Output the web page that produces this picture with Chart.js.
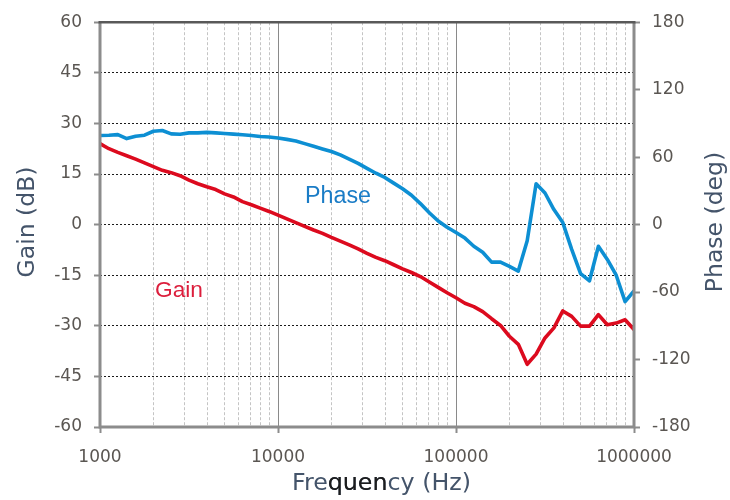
<!DOCTYPE html>
<html><head><meta charset="utf-8">
<script src="https://cdn.jsdelivr.net/npm/chart.js@4.4.1/dist/chart.umd.min.js"></script>
<style>html,body{margin:0;padding:0;background:#fff}canvas{display:block}</style>
</head><body>
<canvas id="c" width="730" height="500"></canvas>
<script>
// ---- data ----
const freqHz = [1000,1122,1259,1413,1585,1778,1995,2239,2512,2818,
  3162,3548,3981,4467,5012,5623,6310,7079,7943,8913,
  10000,11220,12589,14125,15849,17783,19953,22387,25119,28184,
  31623,35481,39811,44668,50119,56234,63096,70795,79433,89125,
  100000,112202,125893,141254,158489,177828,199526,223872,251189,281838,
  316228,354813,398107,446684,501187,562341,630957,707946,794328,891251,1000000];
const gainDb = [24.0,22.5,21.4,20.4,19.4,18.3,17.2,16.1,15.4,14.5,
  13.2,12.1,11.2,10.4,9.1,8.2,6.8,5.9,4.9,3.9,
  2.8,1.7,0.6,-0.5,-1.6,-2.6,-3.8,-4.9,-6.0,-7.2,
  -8.5,-9.7,-10.7,-11.9,-13.1,-14.2,-15.4,-17.0,-18.6,-20.2,
  -21.7,-23.3,-24.3,-25.8,-27.9,-29.9,-33.1,-35.5,-41.4,-38.4,
  -33.6,-30.6,-25.6,-27.2,-30.1,-30.1,-26.7,-29.7,-29.2,-28.2,-31.1];
const phaseDeg = [79.3,79.5,80.0,76.5,78.6,79.5,83.0,83.7,80.7,80.4,
  81.6,81.6,82.0,81.6,81.0,80.5,79.9,79.3,78.4,77.9,
  77.0,75.8,74.4,72.0,69.6,67.3,65.0,62.0,58.2,54.4,
  50.0,45.7,41.9,36.9,31.9,26.1,18.7,10.5,3.2,-2.4,
  -7.0,-12.0,-19.3,-24.6,-33.4,-33.4,-37.1,-41.3,-14.3,36.3,
  28.1,13.4,1.8,-22.0,-43.6,-50.0,-19.3,-31.0,-45.0,-68.5,-59.0];
const xGridFreqs = [1000,2000,3000,4000,5000,6000,7000,8000,9000,
  10000,20000,30000,40000,50000,60000,70000,80000,90000,
  100000,200000,300000,400000,500000,600000,700000,800000,900000,1000000];
const xDecades = [1000,10000,100000,1000000];
const xTickLabels = ['1000','10000','100000','1000000'];
const gainRange = [-60, 60, 15];
const phaseRange = [-180, 180, 60];

const TICK_COLOR = '#5a5652';
const TITLE_COLOR = '#44546a';
const tickFont = {family:'DejaVu Sans', size:17};
const isDecade = v => xDecades.indexOf(v) >= 0;

// set a font whose rendered width of `text` equals `w`
function fitFont(ctx, text, family, w) {
  ctx.font = '20px ' + family;
  const s = 20 * w / ctx.measureText(text).width;
  ctx.font = s.toFixed(2) + 'px ' + family;
  return ctx.font;
}

const overlay = {
  id: 'overlay',
  afterDraw(chart) {
    const {ctx, chartArea: a} = chart;
    ctx.save();
    // plot frame
    ctx.lineCap = 'butt';
    ctx.strokeStyle = '#8c8c8c'; ctx.lineWidth = 3;
    ctx.beginPath();
    ctx.moveTo(a.left, a.top); ctx.lineTo(a.left, a.bottom);
    ctx.lineTo(a.right, a.bottom); ctx.lineTo(a.right, a.top);
    ctx.stroke();
    ctx.strokeStyle = '#595959'; ctx.lineWidth = 2.5;
    ctx.beginPath(); ctx.moveTo(a.left - 1.5, a.top); ctx.lineTo(a.right + 1.5, a.top); ctx.stroke();

    // series labels inside the plot
    ctx.textAlign = 'left'; ctx.textBaseline = 'alphabetic';
    fitFont(ctx, 'Phase', '"Liberation Sans"', 66);
    ctx.fillStyle = '#1a7cc6';
    ctx.fillText('Phase', 305, 203);
    fitFont(ctx, 'Gain', '"Liberation Sans"', 48);
    ctx.fillStyle = '#dc1e3c';
    ctx.fillText('Gain', 155, 297);

    // axis titles
    ctx.fillStyle = TITLE_COLOR;
    ctx.textAlign = 'center';
    const titleFont = fitFont(ctx, 'Gain (dB)', '"DejaVu Sans"', 111);
    ctx.save(); ctx.translate(34, 222); ctx.rotate(-Math.PI/2); ctx.fillText('Gain (dB)', 0, 0); ctx.restore();
    ctx.font = titleFont;
    ctx.save(); ctx.translate(722, 222); ctx.rotate(-Math.PI/2); ctx.fillText('Phase (deg)', 0, 0); ctx.restore();

    const xt = 'Frequency (Hz)';
    const x0 = 292;
    ctx.textAlign = 'left';
    fitFont(ctx, xt, '"DejaVu Sans"', 179);
    ctx.fillText(xt, x0, 490);
    const c0 = x0 + ctx.measureText('Fre').width;
    const c1 = x0 + ctx.measureText('Frequen').width;
    ctx.save();
    ctx.beginPath(); ctx.rect(c0, 460, c1 - c0, 40); ctx.clip();
    ctx.fillStyle = '#1c1c1c';
    ctx.fillText(xt, x0, 490);
    ctx.restore();
    ctx.restore();
  }
};

new Chart(document.getElementById('c'), {
  type: 'line',
  data: {
    datasets: [
      {label: 'Phase', yAxisID: 'yR', data: freqHz.map((f, i) => ({x: f, y: phaseDeg[i]})),
       borderColor: '#0d8fd3', borderWidth: 3.6, pointRadius: 0, tension: 0,
       borderJoinStyle: 'round', borderCapStyle: 'round'},
      {label: 'Gain', yAxisID: 'yL', data: freqHz.map((f, i) => ({x: f, y: gainDb[i]})),
       borderColor: '#dc0a1e', borderWidth: 3.6, pointRadius: 0, tension: 0,
       borderJoinStyle: 'round', borderCapStyle: 'round'}
    ]
  },
  options: {
    responsive: false, animation: false,
    layout: {padding: {top: 17, left: 0, right: 0, bottom: 0}},
    plugins: {legend: {display: false}, tooltip: {enabled: false}},
    scales: {
      x: {
        type: 'logarithmic', position: 'bottom', min: 1000, max: 1000000,
        afterBuildTicks: s => { s.ticks = xGridFreqs.map(v => ({value: v, major: isDecade(v)})); },
        afterFit: s => { s.height = 73; },
        ticks: {autoSkip: false, maxRotation: 0, color: TICK_COLOR, font: tickFont, padding: 14,
          callback: v => { const k = xDecades.indexOf(v); return k >= 0 ? xTickLabels[k] : ''; }},
        grid: {
          color: c => isDecade(c.tick.value) ? '#8a8a8a' : '#c4c4c4',
          lineWidth: 1, tickLength: 6,
          tickColor: c => isDecade(c.tick.value) ? '#8c8c8c' : 'rgba(0,0,0,0)',
          tickWidth: 2
        },
        border: {display: false, dash: c => isDecade(c.tick.value) ? [] : [3, 2]}
      },
      yL: {
        type: 'linear', position: 'left', min: gainRange[0], max: gainRange[1],
        afterFit: s => { s.width = 100; },
        ticks: {stepSize: gainRange[2], color: TICK_COLOR, font: tickFont, padding: 12},
        grid: {color: '#1a1a1a', lineWidth: 1, tickLength: 6, tickColor: '#8c8c8c', tickWidth: 2},
        border: {display: false, dash: [2, 2]}
      },
      yR: {
        type: 'linear', position: 'right', min: phaseRange[0], max: phaseRange[1],
        afterFit: s => { s.width = 96; },
        ticks: {stepSize: phaseRange[2], color: TICK_COLOR, font: tickFont, padding: 12},
        grid: {drawOnChartArea: false, tickLength: 6, tickColor: '#8c8c8c', tickWidth: 2},
        border: {display: false}
      }
    }
  },
  plugins: [overlay]
});
</script>
</body></html>
